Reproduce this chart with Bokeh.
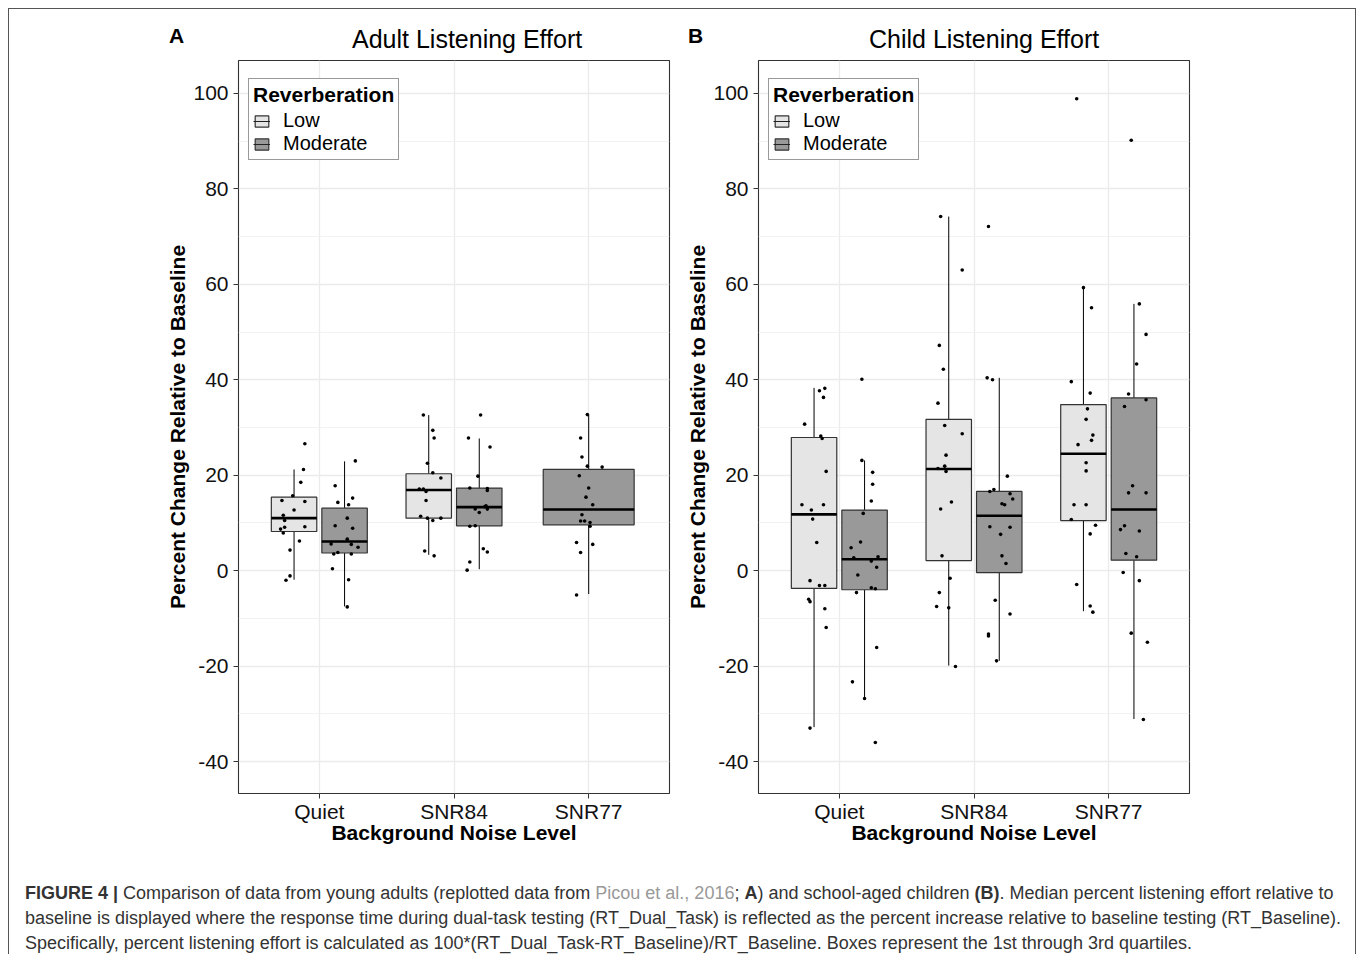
from bokeh.plotting import figure
from bokeh.models import (Range1d, FixedTicker, ColumnDataSource, Legend, LegendItem, Div)
from bokeh.layouts import row, column
from bokeh.embed import file_html
from bokeh.resources import INLINE

categories = ["Quiet", "SNR84", "SNR77"]
groups = ["Low", "Moderate"]
y_ticks = [-40, -20, 0, 20, 40, 60, 80, 100]
y_minor = [-30, -10, 10, 30, 50, 70, 90]
panel_tags = ["A", "B"]
panel_titles = ["Adult Listening Effort", "Child Listening Effort"]

# ---- box statistics ----
adult_low_cats = ["Quiet", "SNR84"]
adult_low_lower = [-1.9, 3.3]
adult_low_q1 = [8.2, 11.0]
adult_low_median = [11.0, 16.9]
adult_low_q3 = [15.4, 20.3]
adult_low_upper = [21.2, 32.6]

adult_mod_cats = ["Quiet", "SNR84", "SNR77"]
adult_mod_lower = [-7.5, 0.3, -4.9]
adult_mod_q1 = [3.7, 9.4, 9.6]
adult_mod_median = [6.1, 13.3, 12.8]
adult_mod_q3 = [13.1, 17.3, 21.2]
adult_mod_upper = [22.9, 27.7, 32.7]

child_low_cats = ["Quiet", "SNR84", "SNR77"]
child_low_lower = [-32.8, -19.9, -8.5]
child_low_q1 = [-3.7, 2.1, 10.5]
child_low_median = [11.8, 21.3, 24.5]
child_low_q3 = [27.9, 31.7, 34.8]
child_low_upper = [38.3, 74.2, 59.3]

child_mod_cats = ["Quiet", "SNR84", "SNR77"]
child_mod_lower = [-26.8, -18.9, -31.1]
child_mod_q1 = [-4.0, -0.4, 2.2]
child_mod_median = [2.4, 11.5, 12.8]
child_mod_q3 = [12.7, 16.6, 36.2]
child_mod_upper = [23.1, 40.4, 55.9]

# ---- individual (jittered) points ----
adult_low_quiet_values = [26.6, 21.2, 18.5, 15.7, 14.7, 14.5, 12.7, 11.6, 10.5, 9.1, 8.7, 9.2, 7.9, 6.2, 4.3, -1.1, -2.0]
adult_low_quiet_jitter = [0.08, 0.07, 0.05, -0.01, -0.09, 0.08, 0.0, -0.08, -0.07, -0.07, -0.10, 0.08, -0.08, 0.04, -0.03, -0.03, -0.06]
adult_low_snr84_values = [32.6, 29.4, 27.8, 22.5, 20.5, 19.4, 17.1, 17.1, 16.6, 14.7, 11.4, 11.0, 10.5, 11.0, 4.1, 3.1]
adult_low_snr84_jitter = [-0.04, 0.03, 0.04, -0.01, 0.03, 0.09, -0.07, -0.04, -0.02, -0.02, -0.06, -0.01, 0.03, 0.09, -0.03, 0.04]
adult_mod_quiet_values = [23.0, 17.8, 15.2, 14.3, 13.8, 11.0, 9.4, 8.9, 6.6, 5.6, 5.5, 4.9, 3.8, 3.5, 3.5, 0.4, -1.9, -7.6]
adult_mod_quiet_jitter = [0.08, -0.07, 0.06, -0.05, 0.03, 0.02, -0.07, 0.06, 0.02, -0.10, 0.05, 0.10, -0.05, -0.08, 0.05, -0.09, 0.03, 0.02]
adult_mod_snr84_values = [32.6, 27.8, 25.9, 19.8, 17.3, 17.2, 16.8, 13.6, 13.4, 12.9, 12.9, 12.2, 9.3, 9.4, 4.6, 3.9, 1.8, 0.1]
adult_mod_snr84_jitter = [0.01, -0.08, 0.08, -0.01, -0.07, 0.06, 0.06, 0.05, 0.04, -0.03, 0.06, 0.0, -0.07, -0.03, 0.03, 0.06, -0.07, -0.09]
adult_mod_snr77_values = [32.7, 27.8, 23.8, 21.9, 21.7, 19.9, 17.3, 15.4, 13.8, 11.7, 10.4, 10.4, 10.1, 9.3, 5.9, 5.5, 3.8, -5.1]
adult_mod_snr77_jitter = [-0.01, -0.06, -0.05, -0.01, 0.10, -0.07, 0.0, -0.02, 0.03, -0.05, -0.06, -0.03, 0.01, 0.01, -0.09, 0.03, -0.06, -0.09]

child_low_quiet_values = [30.7, 37.7, 38.2, 36.3, 28.2, 27.7, 20.8, 13.8, 13.8, 12.7, 10.8, 5.9, -2.1, -3.1, -3.1, -6.0, -6.5, -8.0, -11.9, -33.0]
child_low_quiet_jitter = [-0.07, 0.04, 0.08, 0.07, 0.05, 0.06, 0.09, -0.09, 0.07, -0.02, -0.01, 0.02, -0.03, 0.04, 0.08, -0.04, -0.03, 0.08, 0.09, -0.03]
child_low_snr84_values = [74.2, 63.0, 47.2, 42.2, 35.1, 30.4, 28.7, 24.2, 21.9, 21.4, 20.8, 14.4, 12.9, 3.1, -1.6, -4.6, -7.5, -7.8, -20.1]
child_low_snr84_jitter = [-0.06, 0.10, -0.07, -0.04, -0.08, -0.03, 0.10, -0.02, -0.03, -0.08, -0.02, 0.02, -0.06, -0.05, 0.01, -0.07, -0.09, 0.0, 0.05]
child_low_snr77_values = [98.9, 59.3, 55.1, 39.6, 37.2, 33.9, 31.7, 28.4, 27.3, 26.4, 22.6, 20.9, 13.8, 13.8, 10.7, 9.5, 7.7, -2.9, -7.4, -8.7]
child_low_snr77_jitter = [-0.05, 0.0, 0.06, -0.09, 0.05, 0.03, 0.02, 0.07, 0.06, -0.04, 0.02, 0.02, -0.07, 0.02, -0.09, 0.09, 0.05, -0.05, 0.05, 0.07]
child_mod_quiet_values = [40.1, 23.1, 20.6, 18.1, 14.6, 12.0, 6.0, 4.8, 2.7, 2.0, 2.9, 0.7, -0.9, -3.6, -3.8, -4.6, -16.1, -23.3, -26.8, -36.0]
child_mod_quiet_jitter = [-0.02, -0.02, 0.06, 0.06, 0.05, -0.01, -0.03, -0.10, -0.08, 0.05, 0.10, 0.09, -0.05, 0.05, 0.08, -0.06, 0.09, -0.09, 0.0, 0.08]
child_mod_snr84_values = [72.1, 40.4, 40.0, 19.8, 17.0, 16.6, 16.1, 14.0, 13.8, 15.0, 9.2, 9.1, 7.6, 3.1, 1.5, -6.2, -9.1, -13.3, -13.7, -18.9]
child_mod_snr84_jitter = [-0.08, -0.09, -0.05, 0.06, -0.04, -0.07, 0.08, 0.02, 0.04, 0.10, -0.07, 0.08, 0.01, 0.02, 0.05, -0.03, 0.08, -0.08, -0.08, -0.02]
child_mod_snr77_values = [90.2, 55.9, 49.5, 43.3, 37.0, 35.8, 34.4, 17.8, 16.3, 16.3, 9.4, 8.6, 8.3, 3.6, 2.9, -0.4, -2.1, -13.1, -15.0, -31.2]
child_mod_snr77_jitter = [-0.02, 0.04, 0.09, 0.02, -0.04, 0.09, -0.07, -0.01, -0.04, 0.09, -0.07, -0.10, 0.04, -0.06, 0.02, -0.08, 0.04, -0.02, 0.10, 0.07]

FONT = "Liberation Sans"
FILLS = {"Low": "#E5E5E5", "Moderate": "#999999"}
DODGE = 0.1875
BOXW = 0.3375

adult_stats = {
    "Low": dict(cats=adult_low_cats, lower=adult_low_lower, q1=adult_low_q1, median=adult_low_median, q3=adult_low_q3, upper=adult_low_upper),
    "Moderate": dict(cats=adult_mod_cats, lower=adult_mod_lower, q1=adult_mod_q1, median=adult_mod_median, q3=adult_mod_q3, upper=adult_mod_upper),
}
child_stats = {
    "Low": dict(cats=child_low_cats, lower=child_low_lower, q1=child_low_q1, median=child_low_median, q3=child_low_q3, upper=child_low_upper),
    "Moderate": dict(cats=child_mod_cats, lower=child_mod_lower, q1=child_mod_q1, median=child_mod_median, q3=child_mod_q3, upper=child_mod_upper),
}
adult_points = {
    ("Low", "Quiet"): (adult_low_quiet_values, adult_low_quiet_jitter),
    ("Low", "SNR84"): (adult_low_snr84_values, adult_low_snr84_jitter),
    ("Moderate", "Quiet"): (adult_mod_quiet_values, adult_mod_quiet_jitter),
    ("Moderate", "SNR84"): (adult_mod_snr84_values, adult_mod_snr84_jitter),
    ("Moderate", "SNR77"): (adult_mod_snr77_values, adult_mod_snr77_jitter),
}
child_points = {
    ("Low", "Quiet"): (child_low_quiet_values, child_low_quiet_jitter),
    ("Low", "SNR84"): (child_low_snr84_values, child_low_snr84_jitter),
    ("Low", "SNR77"): (child_low_snr77_values, child_low_snr77_jitter),
    ("Moderate", "Quiet"): (child_mod_quiet_values, child_mod_quiet_jitter),
    ("Moderate", "SNR84"): (child_mod_snr84_values, child_mod_snr84_jitter),
    ("Moderate", "SNR77"): (child_mod_snr77_values, child_mod_snr77_jitter),
}


def make_panel(stats, points, width, border_left, border_right):
    p = figure(width=width, height=796, x_range=Range1d(0.4, 3.6), y_range=Range1d(-46.7, 106.9),
               output_backend="svg", toolbar_location=None,
               min_border_left=border_left, min_border_right=border_right,
               min_border_top=3, min_border_bottom=60)
    p.background_fill_color = "white"
    p.border_fill_color = "white"
    p.outline_line_color = "#333333"
    p.outline_line_width = 1.1

    present = {c: [g for g in groups if c in stats[g]["cats"]] for c in categories}

    def center(cat, g):
        idx = categories.index(cat) + 1
        if len(present[cat]) == 1:
            return idx, 2 * BOXW
        return idx + (-DODGE if g == "Low" else DODGE), BOXW

    box_renderers = {}
    key_renderers = {}
    for g in groups:
        s = stats[g]
        xs, ws = zip(*[center(c, g) for c in s["cats"]])
        src = ColumnDataSource(dict(x=list(xs), w=list(ws), x0=[x - w / 2 for x, w in zip(xs, ws)],
                                    x1=[x + w / 2 for x, w in zip(xs, ws)],
                                    lower=s["lower"], q1=s["q1"], median=s["median"],
                                    q3=s["q3"], upper=s["upper"]))
        p.segment(x0="x", y0="q3", x1="x", y1="upper", source=src, line_color="black", line_width=1)
        p.segment(x0="x", y0="q1", x1="x", y1="lower", source=src, line_color="black", line_width=1)
        box_renderers[g] = p.vbar(x="x", width="w", bottom="q1", top="q3", source=src,
                                  fill_color=FILLS[g], line_color="#333333", line_width=1.2)
        # thin median (covered by the thick one) - used as the legend key line
        key_renderers[g] = p.segment(x0="x0", y0="median", x1="x1", y1="median", source=src,
                                     line_color="#222222", line_width=1)
        p.segment(x0="x0", y0="median", x1="x1", y1="median", source=src,
                  line_color="black", line_width=2.6)

    px, py = [], []
    for (g, c), (vals, jit) in points.items():
        cx, _ = center(c, g)
        px += [cx + j for j in jit]
        py += vals
    p.scatter(x=px, y=py, size=3.6, color="black", line_color=None)

    legend = Legend(items=[LegendItem(label=g, renderers=[box_renderers[g], key_renderers[g]])
                           for g in groups],
                    location=(10, 633), title="Reverberation")
    legend.title_text_font = FONT
    legend.title_text_font_style = "bold"
    legend.title_text_font_size = "21px"
    legend.title_text_color = "black"
    legend.title_standoff = 2
    legend.label_text_font = FONT
    legend.label_text_font_size = "20px"
    legend.label_text_color = "black"
    legend.label_height = 22
    legend.glyph_height = 14
    legend.glyph_width = 17
    legend.label_standoff = 13
    legend.spacing = 0
    legend.padding = 4
    legend.margin = 0
    legend.border_line_color = "#333333"
    legend.border_line_width = 1
    legend.background_fill_color = "white"
    legend.background_fill_alpha = 1
    p.add_layout(legend)

    p.xaxis.ticker = FixedTicker(ticks=[1, 2, 3])
    p.xaxis.major_label_overrides = {i + 1: c for i, c in enumerate(categories)}
    p.yaxis.ticker = FixedTicker(ticks=y_ticks, minor_ticks=y_minor)
    p.yaxis.major_label_overrides = {t: str(t) for t in y_ticks}
    p.xaxis.axis_label = "Background Noise Level"
    p.yaxis.axis_label = "Percent Change Relative to Baseline"
    for ax in (p.xaxis[0], p.yaxis[0]):
        ax.axis_line_color = None
        ax.major_tick_line_color = "#333333"
        ax.major_tick_out = 5
        ax.major_tick_in = 0
        ax.minor_tick_line_color = None
        ax.major_label_text_font = FONT
        ax.major_label_text_font_size = "21px"
        ax.major_label_text_color = "#111111"
        ax.axis_label_text_font = FONT
        ax.axis_label_text_font_style = "bold"
        ax.axis_label_text_font_size = "21px"
        ax.axis_label_text_color = "black"
    p.xaxis.major_label_standoff = 1
    p.xaxis.axis_label_standoff = -5
    p.yaxis.major_label_standoff = 5
    p.yaxis.axis_label_standoff = 1

    p.xgrid.ticker = FixedTicker(ticks=[1, 2, 3])
    p.xgrid.grid_line_color = "#EBEBEB"
    p.xgrid.grid_line_width = 1.3
    p.ygrid.grid_line_color = "#EBEBEB"
    p.ygrid.grid_line_width = 1.3
    p.ygrid.minor_grid_line_color = "#EFEFEF"
    p.ygrid.minor_grid_line_width = 0.8
    return p


pA = make_panel(adult_stats, adult_points, 662, 229, 2)
pB = make_panel(child_stats, child_points, 684, 87, 166)

span = "position:absolute;line-height:1;white-space:nowrap;"
header_html = (
    "<div style=\"position:relative;width:1346px;height:48px;"
    "font-family:'Liberation Sans',Arial,sans-serif;color:#000;\">"
    f"<span style=\"{span}left:160px;top:16px;font-size:21px;font-weight:bold;\">{panel_tags[0]}</span>"
    f"<span style=\"{span}left:343px;top:18px;font-size:25px;\">{panel_titles[0]}</span>"
    f"<span style=\"{span}left:679px;top:16px;font-size:21px;font-weight:bold;\">{panel_tags[1]}</span>"
    f"<span style=\"{span}left:860px;top:18px;font-size:25px;\">{panel_titles[1]}</span>"
    "</div>"
)
header = Div(text=header_html, width=1346, height=48, margin=0)

caption_html = (
    "<div style=\"font-family:'Liberation Sans',Arial,sans-serif;font-size:18px;line-height:25px;"
    "color:#333333;padding-left:16px;padding-top:28px;white-space:nowrap;\">"
    "<b>FIGURE 4 |</b> Comparison of data from young adults (replotted data from "
    "<span style=\"color:#999999\">Picou et al., 2016</span>; <b>A</b>) and school-aged children "
    "<b>(B)</b>. Median percent listening effort relative to<br>"
    "baseline is displayed where the response time during dual-task testing (RT_Dual_Task) is "
    "reflected as the percent increase relative to baseline testing (RT_Baseline).<br>"
    "Specifically, percent listening effort is calculated as 100*(RT_Dual_Task-RT_Baseline)/RT_Baseline. "
    "Boxes represent the 1st through 3rd quartiles.</div>"
)
caption = Div(text=caption_html, width=1346, height=101, margin=0)

page = column(header, row(pA, pB), caption,
              styles={"margin-left": "8px", "margin-top": "8px",
                      "border-top": "1px solid #555555", "border-left": "1px solid #555555",
                      "border-right": "1px solid #555555"})

open("out.html", "w").write(file_html(page, INLINE))
